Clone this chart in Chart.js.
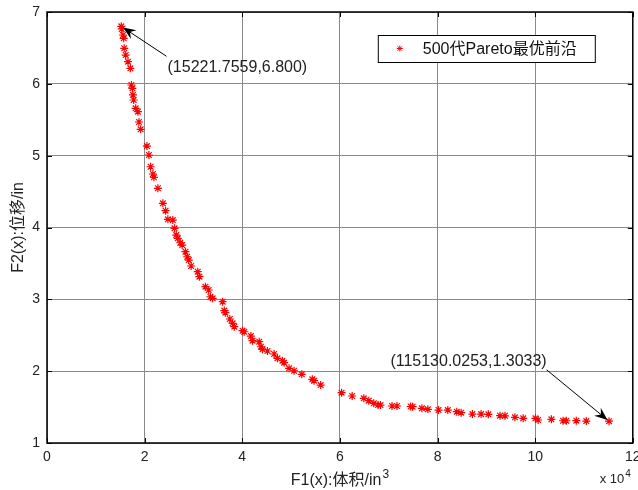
<!DOCTYPE html>
<html>
<head>
<meta charset="utf-8">
<script src="https://cdn.jsdelivr.net/npm/chart.js@4.4.0/dist/chart.umd.min.js"></script>
<style>
  html, body { margin: 0; padding: 0; background: #fff; overflow: hidden; }
  canvas { display: block; }
</style>
</head>
<body>
<canvas id="paretoChart" width="638" height="490"></canvas>
<script>
// F1(x): volume (in^3), F2(x): displacement (in) -- generation 500 Pareto front
const f1Volume = [
  15222, 15306, 15571, 15714, 15816, 16122, 16592, 17082, 17286, 17490,
  17612, 17755, 18163, 18633, 18837, 19184, 20469, 20878, 21224, 21694,
  21898, 22714, 23735, 24286, 24755, 25776, 26122, 26469, 26796, 27286,
  27694, 28367, 28714, 29041, 29531, 30878, 31224, 32449, 33122, 33469,
  33939, 35980, 36327, 36531, 37449, 38020, 38367, 40061, 40408, 41776,
  42102, 43469, 43816, 44143, 45163, 46531, 47204, 48224, 48571, 49592,
  50612, 52184, 54347, 54694, 56061, 60347, 62510, 64898, 65918, 66939,
  67816, 68306, 70673, 71694, 74490, 74898, 76796, 78020, 80204, 82102,
  83939, 84837, 87143, 88918, 90408, 92796, 93816, 95857, 97551, 100061,
  100612, 103327, 105714, 106388, 108429, 110469, 115130
];
const f2Displacement = [
  6.800, 6.763, 6.680, 6.634, 6.495, 6.401, 6.308, 6.216, 5.984, 5.938,
  5.845, 5.775, 5.659, 5.612, 5.469, 5.367, 5.134, 5.009, 4.846, 4.745,
  4.699, 4.546, 4.337, 4.234, 4.114, 4.104, 3.989, 3.895, 3.849, 3.788,
  3.756, 3.663, 3.593, 3.547, 3.464, 3.385, 3.315, 3.176, 3.130, 3.036,
  3.014, 2.967, 2.844, 2.814, 2.726, 2.666, 2.619, 2.563, 2.549, 2.489,
  2.424, 2.410, 2.340, 2.304, 2.281, 2.239, 2.179, 2.145, 2.118, 2.040,
  2.006, 1.956, 1.887, 1.867, 1.807, 1.700, 1.654, 1.622, 1.589, 1.552,
  1.529, 1.528, 1.515, 1.515, 1.508, 1.505, 1.483, 1.469, 1.459, 1.458,
  1.436, 1.422, 1.403, 1.402, 1.399, 1.380, 1.379, 1.357, 1.344, 1.343,
  1.320, 1.330, 1.310, 1.310, 1.311, 1.305, 1.3033
];
const seriesName = '500代Pareto最优前沿';
const xTitle = 'F1(x):体积/in';
const xTitleSup = '3';
const yTitle = 'F2(x):位移/in';
const xExponentBase = 'x 10';
const xExponentSup = '4';

// callouts: label text, target point, label anchor (data units)
const callouts = [
  { text: '(15221.7559,6.800)', x: 15221.7559, y: 6.8, lx: 24690, ly: 6.23, tail: 'left' },
  { text: '(115130.0253,1.3033)', x: 115130.0253, y: 1.3033, lx: 70340, ly: 2.13, tail: 'right' }
];

const FONT = "'Liberation Sans', Arial, 'Noto Sans CJK SC', sans-serif";

const points = f1Volume.map((v, i) => ({ x: v, y: f2Displacement[i] }));

function drawStar(ctx, x, y, r) {
  ctx.beginPath();
  ctx.moveTo(x - r, y); ctx.lineTo(x + r, y);
  ctx.moveTo(x, y - r); ctx.lineTo(x, y + r);
  const d = r * 0.7071;
  ctx.moveTo(x - d, y - d); ctx.lineTo(x + d, y + d);
  ctx.moveTo(x - d, y + d); ctx.lineTo(x + d, y - d);
  ctx.stroke();
}

// text with a raised superscript, anchored by its centre or right edge
function drawSupText(ctx, base, sup, x, y, size, align) {
  ctx.font = size + 'px ' + FONT;
  const wb = ctx.measureText(base).width;
  ctx.font = Math.round(size * 0.75) + 'px ' + FONT;
  const ws = ctx.measureText(sup).width;
  const total = wb + ws + 1;
  const x0 = align === 'right' ? x - total : x - total / 2;
  ctx.textAlign = 'left';
  ctx.textBaseline = 'alphabetic';
  ctx.font = size + 'px ' + FONT;
  ctx.fillText(base, x0, y);
  ctx.font = Math.round(size * 0.75) + 'px ' + FONT;
  ctx.fillText(sup, x0 + wb + 1, y - size * 0.45);
}

const matlabLook = {
  id: 'matlabLook',
  afterDraw(chart) {
    const { ctx, chartArea: a, scales } = chart;
    const xs = scales.x, ys = scales.y;
    ctx.save();

    // axes box
    ctx.strokeStyle = '#000';
    ctx.lineWidth = 1.5;
    ctx.strokeRect(a.left, a.top, a.right - a.left, a.bottom - a.top);

    // inward tick marks
    ctx.lineWidth = 1;
    xs.ticks.forEach(t => {
      const px = Math.round(xs.getPixelForValue(t.value)) + 0.5;
      ctx.beginPath();
      ctx.moveTo(px, a.bottom); ctx.lineTo(px, a.bottom - 5);
      ctx.moveTo(px, a.top); ctx.lineTo(px, a.top + 5);
      ctx.stroke();
    });
    ys.ticks.forEach(t => {
      const py = Math.round(ys.getPixelForValue(t.value)) + 0.5;
      ctx.beginPath();
      ctx.moveTo(a.left, py); ctx.lineTo(a.left + 5, py);
      ctx.moveTo(a.right, py); ctx.lineTo(a.right - 5, py);
      ctx.stroke();
    });

    // x axis title and x 10^4 multiplier
    ctx.fillStyle = '#222';
    drawSupText(ctx, xTitle, xTitleSup, (a.left + a.right) / 2, a.bottom + 42, 16, 'center');
    drawSupText(ctx, xExponentBase, xExponentSup, a.right - 2, a.bottom + 40, 13, 'right');

    // legend box
    const lx = a.right - 255, ly = a.top + 23, lw = 217, lh = 27;
    ctx.fillStyle = '#fff';
    ctx.fillRect(lx, ly, lw, lh);
    ctx.strokeStyle = '#000';
    ctx.lineWidth = 1;
    ctx.strokeRect(lx + 0.5, ly + 0.5, lw, lh);
    ctx.strokeStyle = '#ff0000';
    drawStar(ctx, lx + 22, ly + lh / 2, 3);
    ctx.fillStyle = '#111';
    ctx.font = '16px ' + FONT;
    ctx.textAlign = 'left';
    ctx.textBaseline = 'middle';
    ctx.fillText(seriesName, lx + 45, ly + lh / 2 + 1);

    // callouts with arrows
    callouts.forEach(c => {
      const tx = xs.getPixelForValue(c.x), ty = ys.getPixelForValue(c.y);
      const lxp = xs.getPixelForValue(c.lx), lyp = ys.getPixelForValue(c.ly);
      ctx.font = '16px ' + FONT;
      ctx.textAlign = 'left';
      ctx.textBaseline = 'middle';
      ctx.fillStyle = '#222';
      ctx.fillText(c.text, lxp, lyp);
      const w = ctx.measureText(c.text).width;
      const sx = c.tail === 'left' ? lxp - 1 : lxp + w;
      const sy = c.tail === 'left' ? lyp - 11 : lyp + 8;
      const ang = Math.atan2(ty - sy, tx - sx);
      const ex = tx - Math.cos(ang) * 2, ey = ty - Math.sin(ang) * 2;
      ctx.strokeStyle = '#000';
      ctx.lineWidth = 1;
      ctx.beginPath();
      ctx.moveTo(sx, sy); ctx.lineTo(ex - Math.cos(ang) * 6, ey - Math.sin(ang) * 6);
      ctx.stroke();
      const hl = 14, hw = 0.38;
      ctx.fillStyle = '#000';
      ctx.beginPath();
      ctx.moveTo(ex, ey);
      ctx.lineTo(ex - hl * Math.cos(ang - hw), ey - hl * Math.sin(ang - hw));
      ctx.lineTo(ex - hl * 0.6 * Math.cos(ang), ey - hl * 0.6 * Math.sin(ang));
      ctx.lineTo(ex - hl * Math.cos(ang + hw), ey - hl * Math.sin(ang + hw));
      ctx.closePath();
      ctx.fill();
    });

    ctx.restore();
  }
};

const config = {
  type: 'scatter',
  data: {
    datasets: [{
      label: seriesName,
      data: points,
      pointStyle: 'star',
      pointRadius: 4,
      pointHoverRadius: 4,
      borderColor: '#ff0000',
      backgroundColor: '#ff0000',
      borderWidth: 1.2
    }]
  },
  options: {
    responsive: false,
    animation: false,
    layout: { padding: { top: 12, right: 3, left: 0, bottom: 0 } },
    plugins: {
      legend: { display: false },
      tooltip: { enabled: false }
    },
    scales: {
      x: {
        type: 'linear',
        min: 0,
        max: 120000,
        border: { display: false },
        grid: { color: '#8a8a8a', lineWidth: 1, drawTicks: false },
        ticks: {
          stepSize: 20000,
          padding: 6,
          color: '#222',
          font: { family: FONT, size: 14 },
          maxRotation: 0,
          callback: v => String(v / 10000)
        },
        title: { display: false },
        afterFit(scale) {
          scale.height = 47;
          scale.paddingLeft = 0;
          scale.paddingRight = 0;
        }
      },
      y: {
        type: 'linear',
        min: 1,
        max: 7,
        border: { display: false },
        grid: { color: '#8a8a8a', lineWidth: 1, drawTicks: false },
        ticks: {
          stepSize: 1,
          padding: 7,
          color: '#222',
          font: { family: FONT, size: 14 }
        },
        title: {
          display: true,
          text: yTitle,
          color: '#222',
          font: { family: FONT, size: 16 },
          padding: { top: 9, bottom: 0 }
        },
        afterFit(scale) {
          scale.width = 47;
          scale.paddingTop = 0;
          scale.paddingBottom = 0;
        }
      }
    }
  },
  plugins: [matlabLook]
};

new Chart(document.getElementById('paretoChart').getContext('2d'), config);
</script>
</body>
</html>
